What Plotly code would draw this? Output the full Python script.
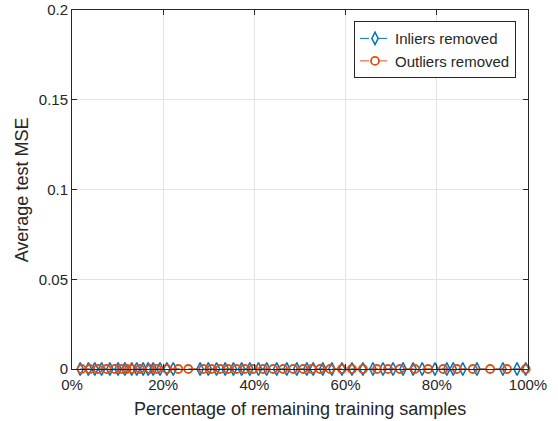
import plotly.graph_objects as go

# percentage of remaining training samples
inliers_x = [1.8, 3.6, 5.0, 6.5, 8.3, 10.1, 11.6, 13.1, 14.2, 15.6, 16.7, 17.8,
             19.3, 20.8, 22.2, 28.1, 29.9, 31.7, 33.6, 35.4, 37.2, 39.0, 40.9,
             42.7, 44.9, 47.1, 49.3, 51.5, 52.9, 55.0, 57.0, 59.2, 61.4, 63.8,
             66.0, 68.2, 70.4, 72.6, 74.8, 76.8, 79.6, 82.2, 83.6, 85.7, 88.8,
             94.5, 97.6, 99.5]
inliers_mse = [0.0] * len(inliers_x)

outliers_x = [2.1, 3.9, 5.7, 7.6, 9.4, 10.9, 12.0, 13.1, 14.9, 17.1, 18.6, 20.8,
              23.3, 25.5, 28.8, 30.6, 32.5, 34.2, 36.1, 37.9, 39.7, 41.9, 44.1,
              46.3, 48.5, 50.7, 52.6, 54.4, 56.6, 59.2, 61.4, 63.8, 66.9, 69.3,
              71.9, 75.2, 78.1, 81.4, 84.4, 87.9, 91.7, 95.4, 99.5]
outliers_mse = [0.0] * len(outliers_x)

x_ticks = [0, 20, 40, 60, 80, 100]
x_labels = ["0%", "20%", "40%", "60%", "80%", "100%"]
y_ticks = [0, 0.05, 0.1, 0.15, 0.2]
y_labels = ["0", "0.05", "0.1", "0.15", "0.2"]

BLUE = "#0072BD"
ORANGE = "#D95319"
INK = "#262626"

fig = go.Figure()
fig.add_trace(go.Scatter(
    x=inliers_x, y=inliers_mse, mode="lines+markers", name="Inliers removed",
    line={"color": BLUE, "dash": "dash", "width": 1},
    marker={"symbol": "diamond-tall-open", "size": 9, "color": BLUE, "line": {"width": 1.5}},
    cliponaxis=False,
))
fig.add_trace(go.Scatter(
    x=outliers_x, y=outliers_mse, mode="lines+markers", name="Outliers removed",
    line={"color": ORANGE, "dash": "dash", "width": 1},
    marker={"symbol": "circle-open", "size": 8, "color": ORANGE, "line": {"width": 1.8}},
    cliponaxis=False,
))

axis_common = dict(
    showgrid=True, gridcolor="#e3e3e3", gridwidth=1,
    showline=True, linecolor=INK, linewidth=1, mirror="ticks",
    ticks="inside", ticklen=5, tickcolor=INK,
    zeroline=False, tickfont={"size": 15, "color": INK},
    automargin=False, ticklabeloverflow="allow",
)

fig.update_layout(
    width=558, height=421,
    margin={"l": 72, "r": 30, "t": 10, "b": 52},
    paper_bgcolor="white", plot_bgcolor="white",
    font={"family": "Liberation Sans, Arial, sans-serif", "color": INK},
    xaxis=dict(axis_common, range=[0, 100], tickvals=x_ticks, ticktext=x_labels,
               ticklabelstandoff=2),
    yaxis=dict(axis_common, range=[0, 0.2], tickvals=y_ticks, ticktext=y_labels,
               ticklabelstandoff=0),
    showlegend=True,
    legend={"x": 0.9737, "y": 0.969, "xanchor": "right", "yanchor": "top",
            "bgcolor": "white", "bordercolor": INK, "borderwidth": 1,
            "font": {"size": 15}, "tracegroupgap": 0, "itemwidth": 30},
    annotations=[
        dict(text="Percentage of remaining training samples", x=0.5, y=-0.111,
             xref="paper", yref="paper", xanchor="center", yanchor="middle",
             showarrow=False, font={"size": 18, "color": INK}),
        dict(text="Average test MSE", x=-0.11, y=0.5, textangle=-90,
             xref="paper", yref="paper", xanchor="center", yanchor="middle",
             showarrow=False, font={"size": 18, "color": INK}),
    ],
)

# drop the default page margin so the figure sits at the window's corner
fig.write_html(
    "out.html",
    config={"displayModeBar": False},
    post_script="document.body.style.margin = '0';",
)
